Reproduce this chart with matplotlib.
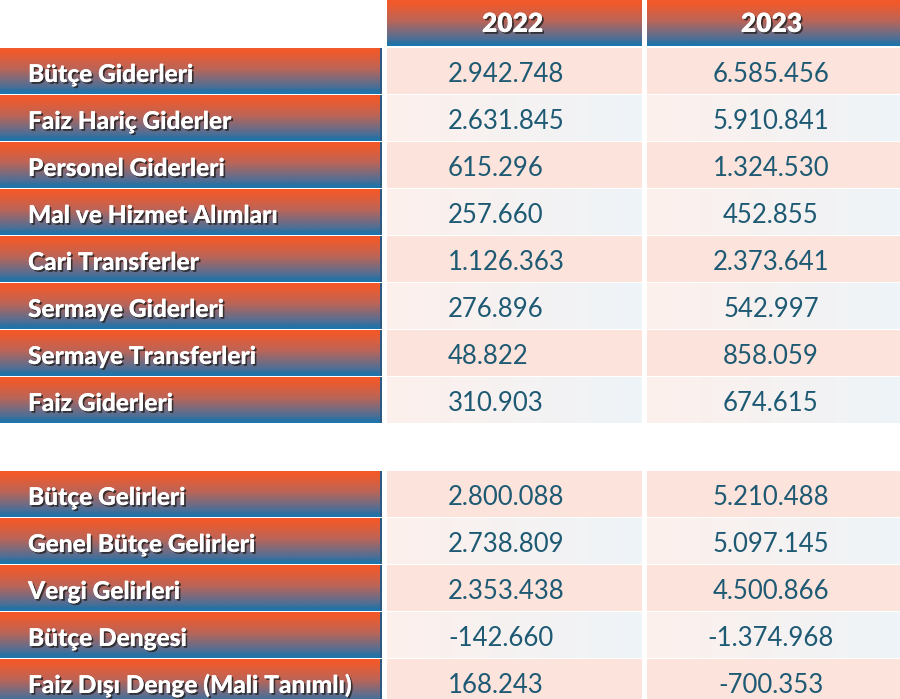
import numpy as np
import matplotlib
matplotlib.use("Agg")
import matplotlib.pyplot as plt
import matplotlib.patheffects as pe
from matplotlib.colors import LinearSegmentedColormap

# --- data -------------------------------------------------------------
years = ["2022", "2023"]

gider_labels = [
    "Bütçe Giderleri",
    "Faiz Hariç Giderler",
    "Personel Giderleri",
    "Mal ve Hizmet Alımları",
    "Cari Transferler",
    "Sermaye Giderleri",
    "Sermaye Transferleri",
    "Faiz Giderleri",
]
gider_2022 = ["2.942.748", "2.631.845", "615.296", "257.660",
              "1.126.363", "276.896", "48.822", "310.903"]
gider_2023 = ["6.585.456", "5.910.841", "1.324.530", "452.855",
              "2.373.641", "542.997", "858.059", "674.615"]

gelir_labels = [
    "Bütçe Gelirleri",
    "Genel Bütçe Gelirleri",
    "Vergi Gelirleri",
    "Bütçe Dengesi",
    "Faiz Dışı Denge (Mali Tanımlı)",
]
gelir_2022 = ["2.800.088", "2.738.809", "2.353.438", "-142.660", "168.243"]
gelir_2023 = ["5.210.488", "5.097.145", "4.500.866", "-1.374.968", "-700.353"]

# --- layout (pixels) --------------------------------------------------
W, H = 900, 699
ROW_H = 46
PITCH = 47
BLOCK_TOPS = [48, 471]
LABEL_X1 = 382
COLS = [(387, 642), (647, 900)]
HEADER_BOTTOM = 46

NUM_COLOR = "#1e5a73"

bar_cmap = LinearSegmentedColormap.from_list(
    "bar", [(0.0, "#f4582a"), (0.08, "#ef5a2c"), (0.45, "#bb6558"),
            (0.85, "#4d6f97"), (0.92, "#2f6f9f"), (1.0, "#1b77ae")])
light_cmap = LinearSegmentedColormap.from_list(
    "light", ["#fdf0ec", "#eef4f8"])

fig = plt.figure(figsize=(W / 100, H / 100), dpi=100)
ax = fig.add_axes([0, 0, 1, 1])
ax.set_xlim(0, W)
ax.set_ylim(H, 0)
ax.axis("off")

vgrad = np.linspace(0, 1, 64).reshape(-1, 1)
hgrad = np.linspace(0, 1, 64).reshape(1, -1)

shadow = [pe.withSimplePatchShadow(offset=(1.3, -1.3), shadow_rgbFace="#222222",
                                   alpha=0.8), pe.Normal()]


def bar(x0, x1, y0, y1):
    ax.imshow(vgrad, cmap=bar_cmap, aspect="auto",
              extent=(x0, x1, y1, y0), interpolation="bilinear", zorder=1)


# header
for (x0, x1), yr in zip(COLS, years):
    bar(x0, x1, 0, HEADER_BOTTOM)
    ax.text((x0 + x1) / 2 - 2, 32, yr, color="white", fontsize=19,
            fontfamily="Lato", fontweight="heavy", ha="center", va="baseline",
            path_effects=shadow, zorder=3)


def draw_block(top, labels, v22, v23):
    for i, (lab, a, b) in enumerate(zip(labels, v22, v23)):
        y0 = top + i * PITCH
        y1 = min(y0 + ROW_H, H)
        bar(0, LABEL_X1, y0, y0 + ROW_H)
        ax.fill_between([LABEL_X1 - 2, LABEL_X1], y0, y0 + ROW_H,
                        color="#2c5a85", lw=0, zorder=2)
        ax.text(28, y0 + 34, lab, color="white", fontsize=17.6,
                fontfamily="Lato", fontweight="black", ha="left",
                va="baseline", path_effects=shadow, zorder=3)
        for (x0, x1) in COLS:
            if i % 2 == 0:
                ax.fill_between([x0, x1], y0, y1, color="#fce4dd", lw=0,
                                zorder=1)
            else:
                ax.imshow(hgrad, cmap=light_cmap, aspect="auto",
                          extent=(x0, x1, y1, y0), interpolation="bilinear",
                          zorder=1)
        ax.text(448, y0 + 34, a, color=NUM_COLOR, fontsize=18.5,
                fontfamily="Lato", ha="left", va="baseline", zorder=3)
        ax.text(771, y0 + 34, b, color=NUM_COLOR, fontsize=18.5,
                fontfamily="Lato", ha="center", va="baseline", zorder=3)


draw_block(BLOCK_TOPS[0], gider_labels, gider_2022, gider_2023)
draw_block(BLOCK_TOPS[1], gelir_labels, gelir_2022, gelir_2023)

ax.set_xlim(0, W)
ax.set_ylim(H, 0)
fig.savefig("out.png", dpi=100)
